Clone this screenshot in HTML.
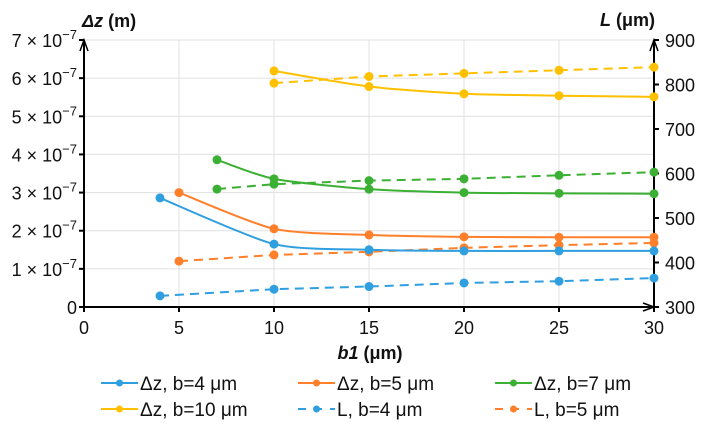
<!DOCTYPE html>
<html><head><meta charset="utf-8"><style>
body{margin:0;background:#fff;}
svg{display:block;font-family:"Liberation Sans",Arial,sans-serif;}
</style></head><body>
<svg id="chart" width="713" height="429" viewBox="0 0 713 429">
<g id="grid"></g>
<g id="axes"></g>
<g id="series"></g>
<g id="legend"></g>
</svg>
<script>
const xCats = [4, 5, 7, 10, 15, 20, 25, 30];
const xTicks = [0, 5, 10, 15, 20, 25, 30];
const yLeftTicks = [0, 1, 2, 3, 4, 5, 6, 7];
const yRightTicks = [300, 400, 500, 600, 700, 800, 900];
const dzB4x = [4, 10, 15, 20, 25, 30];
const dzB4 = [2.86, 1.65, 1.50, 1.47, 1.47, 1.47];
const dzB5x = [5, 10, 15, 20, 25, 30];
const dzB5 = [3.0, 2.05, 1.89, 1.84, 1.83, 1.83];
const dzB7x = [7, 10, 15, 20, 25, 30];
const dzB7 = [3.86, 3.36, 3.09, 3.0, 2.98, 2.97];
const dzB10x = [10, 15, 20, 25, 30];
const dzB10 = [6.19, 5.78, 5.59, 5.54, 5.51];
const lB4 = [325, 340, 346, 354, 358, 365];
const lB5 = [403, 417, 424, 433, 439, 444];
const lB7 = [565, 576, 584, 588, 596, 603];
const lB10 = [803, 818, 825, 832, 839];

const NS = "http://www.w3.org/2000/svg";
const X0 = 84, X1 = 654, YB = 307, YT = 40;
const xs = v => X0 + (v / 30) * (X1 - X0);
const yl = v => YB - (v / 7) * (YB - YT);
const yr = v => YB - ((v - 300) / 600) * (YB - YT);
function mk(tag, attrs, parent, text) {
  const e = document.createElementNS(NS, tag);
  for (const k in attrs) e.setAttribute(k, attrs[k]);
  if (text !== undefined) e.textContent = text;
  parent.appendChild(e);
  return e;
}
const grid = document.getElementById('grid');
const axes = document.getElementById('axes');
const series = document.getElementById('series');
const legend = document.getElementById('legend');

yLeftTicks.forEach(t => {
  const g = mk('line', {x1: X0, x2: X1, y1: yl(t), y2: yl(t), stroke: '#e0e0e0', 'stroke-width': 1}, grid);
  
  
  const tk = mk('line', {x1: X0 - 5, x2: X0, y1: yl(t), y2: yl(t), stroke: '#000', 'stroke-width': 2}, axes);
  
  
  const lab = mk('text', {x: X0 - 7, y: yl(t) + 7, 'text-anchor': 'end', 'font-size': 18, fill: '#111'}, axes);
  
  
  if (t === 0) lab.textContent = '0';
  else {
    lab.textContent = t + ' × 10';
    mk('tspan', {dy: -8, 'font-size': 13}, lab, '−7');
  }
});
xTicks.forEach(t => {
  if (t > 0) {
    const g = mk('line', {x1: xs(t), x2: xs(t), y1: YT, y2: YB, stroke: '#e0e0e0', 'stroke-width': 1}, grid);
    
    
  }
  const tk = mk('line', {x1: xs(t), x2: xs(t), y1: YB, y2: YB + 5, stroke: '#000', 'stroke-width': 2}, axes);
  
  
  const lab = mk('text', {x: xs(t), y: YB + 27, 'text-anchor': 'middle', 'font-size': 18, fill: '#111'}, axes, String(t));
  
  
});
yRightTicks.forEach(t => {
  const tk = mk('line', {x1: X1, x2: X1 + 5, y1: yr(t), y2: yr(t), stroke: '#000', 'stroke-width': 2}, axes);
  
  
  const lab = mk('text', {x: X1 + 11, y: yr(t) + 7, 'font-size': 18, fill: '#111'}, axes, String(t));
  
  
});
function arrowLine(x1, y1, x2, y2, name) {
  const l = mk('line', {x1, y1, x2, y2, stroke: '#000', 'stroke-width': 2}, axes);
  
  
}
arrowLine(X0, YB + 1, X0, YT, 'y-left-axis');
mk('path', {d: `M${X0-4},${YT+11} L${X0},${YT} L${X0+4},${YT+11}`, fill: 'none', stroke: '#000', 'stroke-width': 1.5}, axes);
arrowLine(X1, YB + 1, X1, YT, 'y-right-axis');
mk('path', {d: `M${X1-4},${YT+11} L${X1},${YT} L${X1+4},${YT+11}`, fill: 'none', stroke: '#000', 'stroke-width': 1.5}, axes);
arrowLine(X0 - 1, YB, X1, YB, 'x-axis');
mk('path', {d: `M${X1-11},${YB-4} L${X1},${YB} L${X1-11},${YB+4}`, fill: 'none', stroke: '#000', 'stroke-width': 1.5}, axes);

const t1 = mk('text', {x: 82, y: 27, 'font-size': 18, 'font-weight': 'bold', fill: '#111'}, axes);


mk('tspan', {'font-style': 'italic'}, t1, 'Δz');
mk('tspan', {}, t1, ' (m)');
const t2 = mk('text', {x: 600, y: 26, 'font-size': 18, 'font-weight': 'bold', fill: '#111'}, axes);


mk('tspan', {'font-style': 'italic'}, t2, 'L');
mk('tspan', {}, t2, ' (μm)');
const t3 = mk('text', {x: 370, y: 359, 'text-anchor': 'middle', 'font-size': 18, 'font-weight': 'bold', fill: '#111'}, axes);


mk('tspan', {'font-style': 'italic'}, t3, 'b1');
mk('tspan', {}, t3, ' (μm)');

function smoothPath(pts) {
  let d = `M${pts[0][0]},${pts[0][1]}`;
  for (let i = 0; i < pts.length - 1; i++) {
    const p0 = pts[i - 1] || pts[i], p1 = pts[i], p2 = pts[i + 1], p3 = pts[i + 2] || p2;
    const t = 0.12;
    const c1 = [p1[0] + (p2[0] - p0[0]) * t, p1[1] + (p2[1] - p0[1]) * t];
    const c2 = [p2[0] - (p3[0] - p1[0]) * t, p2[1] - (p3[1] - p1[1]) * t];
    d += ` C${c1[0]},${c1[1]} ${c2[0]},${c2[1]} ${p2[0]},${p2[1]}`;
  }
  return d;
}
function drawSeries(xv, yv, yfn, color, dashed, name) {
  const g = mk('g', {}, series);
  
  
  const pts = xv.map((x, i) => [xs(x), yfn(yv[i])]);
  const d = dashed ? 'M' + pts.map(p => p.join(',')).join(' L') : smoothPath(pts);
  const a = {d, fill: 'none', stroke: color, 'stroke-width': 2};
  if (dashed) a['stroke-dasharray'] = '9,6';
  mk('path', a, g);
  pts.forEach(p => {
    const c = mk('circle', {cx: p[0], cy: p[1], r: 4.5, fill: color}, g);
    
    
  });
}
const BLUE = '#2f9fe0', ORANGE = '#ff7f2a', GREEN = '#3cb034', YELLOW = '#ffc000';
drawSeries([4,10,15,20,25,30], lB4, yr, BLUE, true, 'l-b4-series');
drawSeries([5,10,15,20,25,30], lB5, yr, ORANGE, true, 'l-b5-series');
drawSeries([7,10,15,20,25,30], lB7, yr, GREEN, true, 'l-b7-series');
drawSeries([10,15,20,25,30], lB10, yr, YELLOW, true, 'l-b10-series');
drawSeries(dzB4x, dzB4, yl, BLUE, false, 'dz-b4-series');
drawSeries(dzB5x, dzB5, yl, ORANGE, false, 'dz-b5-series');
drawSeries(dzB7x, dzB7, yl, GREEN, false, 'dz-b7-series');
drawSeries(dzB10x, dzB10, yl, YELLOW, false, 'dz-b10-series');

const legItems = [
  ['Δz, b=4 μm', BLUE, false, 101, 383],
  ['Δz, b=5 μm', ORANGE, false, 298, 383],
  ['Δz, b=7 μm', GREEN, false, 495, 383],
  ['Δz, b=10 μm', YELLOW, false, 101, 409],
  ['L, b=4 μm', BLUE, true, 298, 409],
  ['L, b=5 μm', ORANGE, true, 495, 409],
];
legItems.forEach(it => {
  const g = mk('g', {}, legend);
  
  
  const a = {x1: it[3], x2: it[3] + 37, y1: it[4], y2: it[4], stroke: it[1], 'stroke-width': 2};
  if (it[2]) a['stroke-dasharray'] = '8,8';
  mk('line', a, g);
  mk('circle', {cx: it[3] + 18.5, cy: it[4], r: 3.5, fill: it[1]}, g);
  mk('text', {x: it[3] + 39, y: it[4] + 7, 'font-size': 19, fill: '#111'}, g, it[0]);
});
</script>
</body></html>
